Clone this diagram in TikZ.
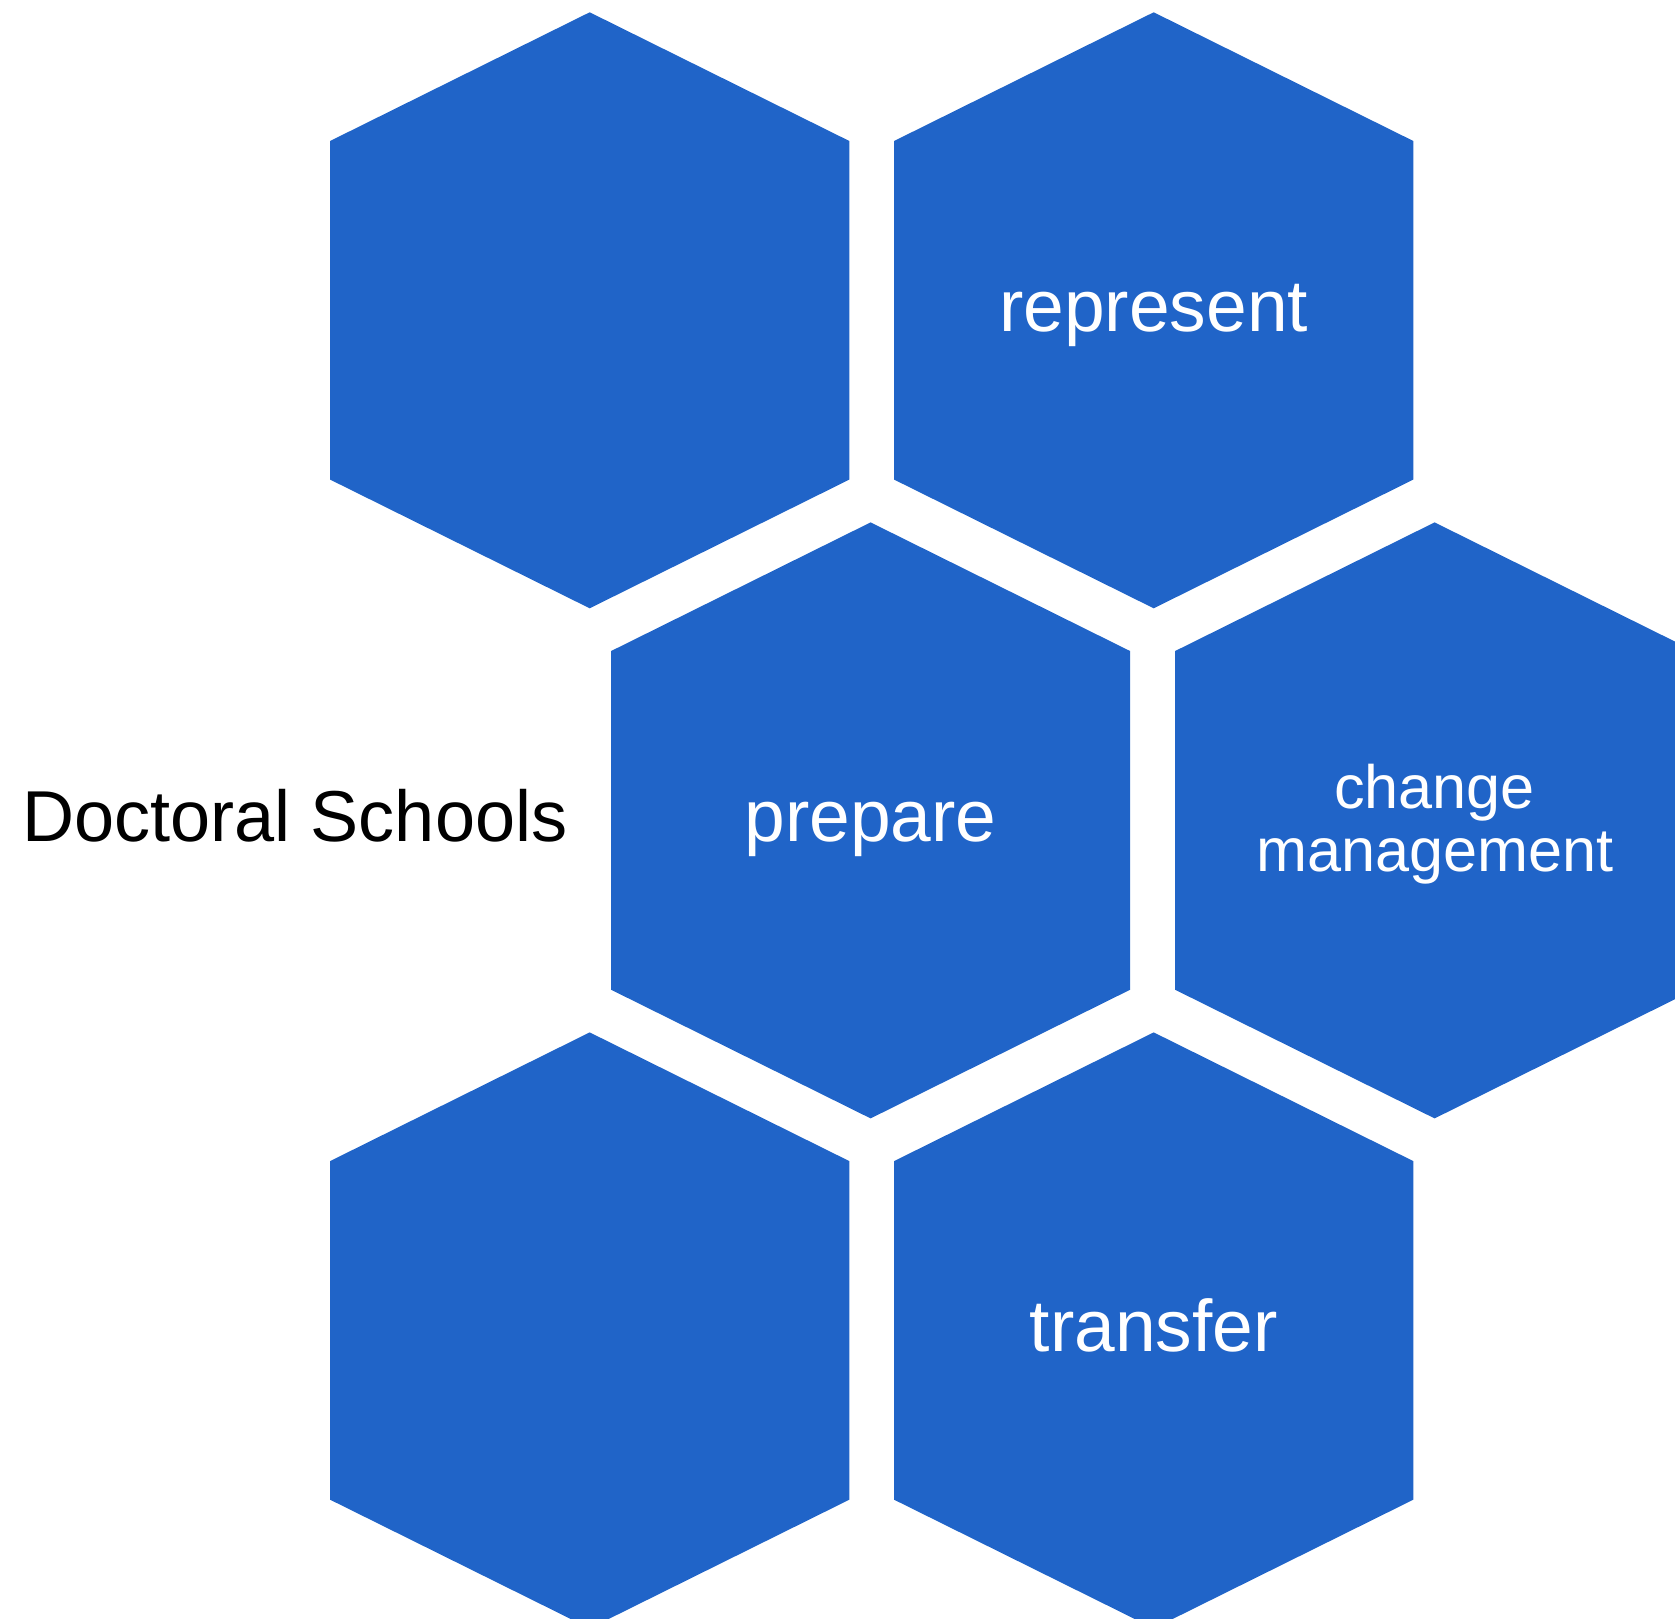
\documentclass[tikz,border=0pt]{standalone}
\usepackage{fontspec}
\setmainfont{Liberation Sans}
\usepackage{tikz}
\usetikzlibrary{math}

\definecolor{hexblue}{RGB}{32,100,200}

\tikzset{
  hexcell/.style={fill=hexblue},
  hexlabel/.style={text=white, inner sep=0pt, align=center,
    font=\fontsize{20.8}{24}\selectfont},
  smalllabel/.style={hexlabel, font=\fontsize{17.4}{17.8}\selectfont},
  sidelabel/.style={text=black, inner sep=0pt,
    font=\fontsize{20.5}{24}\selectfont}
}

\begin{document}
\begin{tikzpicture}[x=0.01cm,y=-0.01cm]
  \pgfmathsetmacro{\HexW}{259.6}
  \pgfmathsetmacro{\HexS}{169.3}
  \pgfmathsetmacro{\HexH}{298.}
  \useasboundingbox (0,0) rectangle (1675,1619);
  \clip (0,0) rectangle (1675,1619);

  % honeycomb, two columns shifted by half a cell
  \foreach \cx/\cy in {589.7/310.3, 1153.7/310.3, 870.6/820.4,
                       1434.6/820.4, 589.7/1330.4, 1153.7/1330.4}
    \fill[hexcell] (\cx,\cy-\HexH) -- (\cx+\HexW,\cy-\HexS)
      -- (\cx+\HexW,\cy+\HexS) -- (\cx,\cy+\HexH)
      -- (\cx-\HexW,\cy+\HexS) -- (\cx-\HexW,\cy-\HexS) -- cycle;

  \node[hexlabel, anchor=base] (represent) at (1153.7,331.7) {represent};
  \node[hexlabel, anchor=base] (prepare) at (870.6,841.2) {prepare};
  \node[smalllabel] (change) at (1434.6,824) {change\\management};
  \node[hexlabel, anchor=base] (transfer) at (1153.7,1351.1) {transfer};

  \node[sidelabel, anchor=base west] (schools) at (21.8,841.7) {Doctoral Schools};
\end{tikzpicture}
\end{document}
